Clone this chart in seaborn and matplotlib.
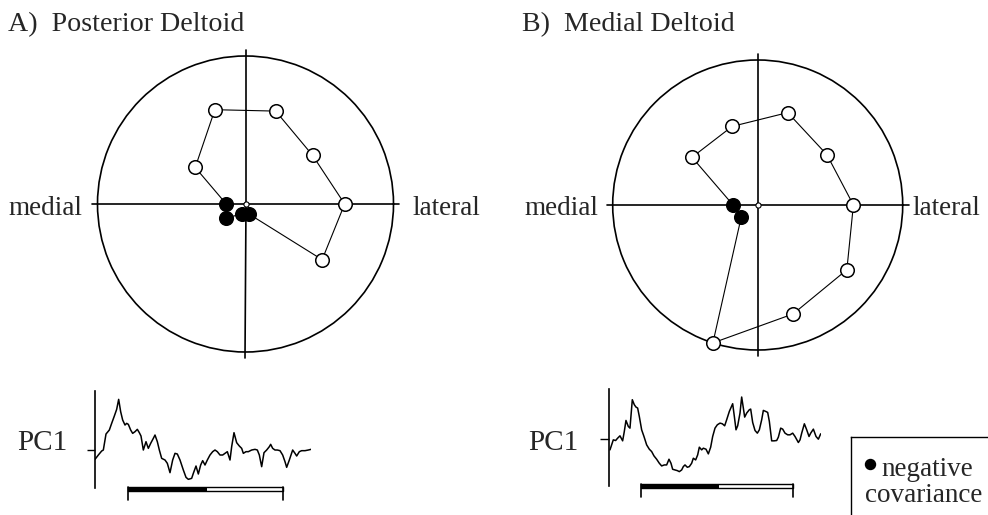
import numpy as np
import matplotlib
matplotlib.use("Agg")
import matplotlib.pyplot as plt
import seaborn as sns

# ---- tuning data: movement direction (deg) and normalised covariance ----
directions_deg = [0, 36, 72, 108, 144, 180, 216, 252, 288, 324]
posterior_cov = [0.67, 0.56, 0.66, 0.67, 0.42, -0.13, -0.16, -0.07, -0.07, 0.64]
medial_cov = [0.66, 0.59, 0.67, 0.57, 0.56, -0.17, -0.14, 1.00, 0.79, 0.76]

# ---- first principal component waveforms (time, amplitude) ----
pc1_post_t = [0, 10, 20, 25, 33, 43, 50, 58, 65, 71, 77, 83, 90, 95, 100, 107, 113,
              120, 127, 133, 138, 145, 153, 160, 167, 175, 180, 187, 193, 200, 210,
              217, 225, 233, 240, 247, 255, 260, 265, 273, 280, 290, 295, 303, 310,
              317, 323, 330, 337, 345, 353, 360, 367, 375, 383, 390, 397, 405, 410,
              417, 425, 433, 440, 445, 453, 460, 470, 480, 487, 493, 500, 507, 515,
              523, 527, 533, 540, 547, 555, 563, 570, 575, 583, 593, 600, 605, 613,
              620, 630, 640, 648]
pc1_post_a = [-28, -15, -3, 0, 48, 60, 80, 102, 122, 152, 115, 90, 75, 80, 77, 60, 50,
              55, 62, 52, 42, 0, 25, 5, 20, 35, 45, 25, 0, -25, -30, -40, -68, -30,
              -10, -12, -30, -45, -60, -82, -88, -85, -70, -48, -72, -45, -32, -45,
              -30, -15, -5, 0, -5, -15, -15, -10, -5, -30, 10, 52, 22, 12, 5, -10,
              -5, -5, 0, 2, 0, -15, -50, -8, 0, 10, 17, 5, 0, 0, -2, -15, -35, -52,
              -30, 0, -10, -18, -5, -2, -2, 0, 2]
pc1_med_t = [2, 7, 12, 19, 25, 32, 40, 45, 50, 57, 62, 69, 75, 80, 85, 90, 97, 104,
             112, 120, 127, 134, 142, 150, 157, 165, 172, 179, 185, 190, 197, 204,
             210, 217, 222, 227, 234, 240, 247, 252, 259, 265, 270, 277, 282, 290,
             297, 304, 310, 317, 324, 332, 339, 346, 352, 360, 370, 375, 380, 385,
             392, 397, 402, 406, 412, 420, 424, 430, 437, 444, 450, 457, 462, 469,
             475, 480, 487, 494, 502, 507, 514, 520, 527, 535, 542, 550, 557, 567,
             572, 577, 585, 592, 599, 604, 612, 620, 627, 634]
pc1_med_a = [-34, -19, -4, -6, 1, 8, -7, 21, 54, 36, 31, 116, 101, 94, 91, 66, 26, 6,
             -19, -32, -39, -52, -62, -74, -82, -79, -79, -62, -74, -92, -94, -96,
             -99, -94, -84, -79, -86, -84, -74, -59, -64, -49, -26, -34, -29, -32,
             -46, -26, 6, 31, 41, 46, 44, 38, 56, 81, 104, 66, 26, 38, 76, 124, 91,
             64, 76, 86, 88, 48, 24, 16, 26, 56, 84, 81, 78, 51, -7, -7, -6, 4, 31,
             28, 16, 11, 11, 16, 6, -12, -4, 16, 44, 26, 6, 16, 28, 6, -2, 14]

# movement epoch under each waveform: (start, end of dark phase, end)
post_epoch = (98, 335, 565)
med_epoch = (94, 329, 552)

W, H = 988, 515
SERIF = ["Liberation Serif", "DejaVu Serif"]
FS = 19.5
FS_TITLE = 20.2
FS_PC = 21

sns.set_style("white")
plt.rcParams["font.family"] = SERIF
plt.rcParams["axes.edgecolor"] = "black"


def box(left, top, right, bottom):
    """Pixel box -> figure fraction rectangle."""
    return [left / W, 1 - bottom / H, (right - left) / W, (bottom - top) / H]


def px_text(x, y, s, size=FS, **kw):
    fig.text(x / W, 1 - y / H, s, fontsize=size, va="baseline", **kw)


fig = plt.figure(figsize=(W / 100, H / 100), dpi=100)


def tuning_polar(rect, values):
    ax = fig.add_axes(rect, projection="polar")
    ax.set_facecolor("none")
    theta = np.deg2rad(directions_deg)
    vals = np.asarray(values)
    mag = np.abs(vals)
    # reference cross through the origin
    for ang in (0, np.pi / 2, np.pi, 3 * np.pi / 2):
        ax.plot([ang, ang], [0, 1.04], color="black", lw=1.2, zorder=1)
    # closed tuning contour
    th_c = np.append(theta, theta[0] + 2 * np.pi)
    r_c = np.append(mag, mag[0])
    sns.lineplot(x=th_c, y=r_c, sort=False, estimator=None, color="black",
                 lw=0.8, ax=ax, zorder=2)
    # origin marker
    ax.scatter([0], [0], s=14, facecolor="white", edgecolor="black",
               linewidth=0.8, zorder=2.5)
    pos = vals >= 0
    sns.scatterplot(x=theta[pos], y=mag[pos], s=95, color="white",
                    edgecolor="black", linewidth=1.1, ax=ax, zorder=3)
    sns.scatterplot(x=theta[~pos], y=mag[~pos], s=95, color="black",
                    edgecolor="black", linewidth=1.1, ax=ax, zorder=3)
    for art in list(ax.lines) + list(ax.collections):
        art.set_clip_on(False)
    ax.set_rlim(0, 1)
    ax.set_xticks([])
    ax.set_yticks([])
    ax.grid(False)
    ax.set_xlabel("")
    ax.set_ylabel("")
    ax.spines["polar"].set_linewidth(1.2)
    ax.spines["polar"].set_color("black")
    ax.spines["polar"].set_zorder(1.5)
    return ax


def pc_trace(rect, t, a, ylim, tmax, epoch, bar_y, tick_len):
    ax = fig.add_axes(rect)
    ax.set_facecolor("none")
    sns.lineplot(x=t, y=a, sort=False, estimator=None, color="black", lw=1.1, ax=ax)
    ax.set_xlim(0, tmax)
    ax.set_ylim(*ylim)
    for s in ("top", "right", "bottom"):
        ax.spines[s].set_visible(False)
    ax.spines["left"].set_linewidth(1.2)
    ax.set_xticks([])
    ax.set_yticks([0])
    ax.set_yticklabels([""])
    ax.tick_params(axis="y", direction="out", length=tick_len, width=1.0,
                   color="black", left=True)
    ax.set_xlabel("")
    ax.set_ylabel("")
    # movement epoch bar: dark first phase, open second phase
    t0, t1, t2 = epoch
    top, bot, foot = bar_y
    ax.fill_between([t0, t1], bot, top, color="black", lw=0, clip_on=False)
    ax.plot([t0, t2, t2, t0, t0], [top, top, bot, bot, top], color="black",
            lw=1.0, clip_on=False)
    ax.plot([t0, t0], [top, foot], color="black", lw=1.2, clip_on=False)
    ax.plot([t2, t2], [top, foot], color="black", lw=1.2, clip_on=False)
    return ax


tuning_polar(box(97.5, 56, 393.5, 352), posterior_cov)
tuning_polar(box(612.7, 60, 902.7, 350), medial_cov)

pc_trace(box(95, 390.7, 311, 488), pc1_post_t, pc1_post_a, (-114, 178), 648,
         post_epoch, (-112, -123, -150), 5.8)
pc_trace(box(609.3, 389, 820.7, 486), pc1_med_t, pc1_med_a, (-142, 148), 634,
         med_epoch, (-136, -147, -174), 6.3)

# panel titles and direction labels
px_text(8, 31.5, "A)  Posterior Deltoid", size=FS_TITLE)
px_text(522, 31.5, "B)  Medial Deltoid", size=FS_TITLE)
px_text(8, 215, "medial")
px_text(412, 215, "lateral")
px_text(524, 215, "medial")
px_text(912, 215, "lateral")
px_text(17, 450, "PC1", size=FS_PC)
px_text(528, 450, "PC1", size=FS_PC)

# legend box
leg = fig.add_axes(box(851, 437, 992, 518))
leg.set_facecolor("none")
leg.set_xlim(851, 992)
leg.set_ylim(518, 437)
leg.set_xticks([])
leg.set_yticks([])
for s in ("right", "bottom"):
    leg.spines[s].set_visible(False)
for s in ("left", "top"):
    leg.spines[s].set_linewidth(1.0)
    leg.spines[s].set_color("black")
leg.scatter([870], [463.5], s=52, color="black", clip_on=False)
px_text(881, 476.5, "negative")
px_text(865, 501.5, "covariance")

fig.savefig("out.png", dpi=100)
